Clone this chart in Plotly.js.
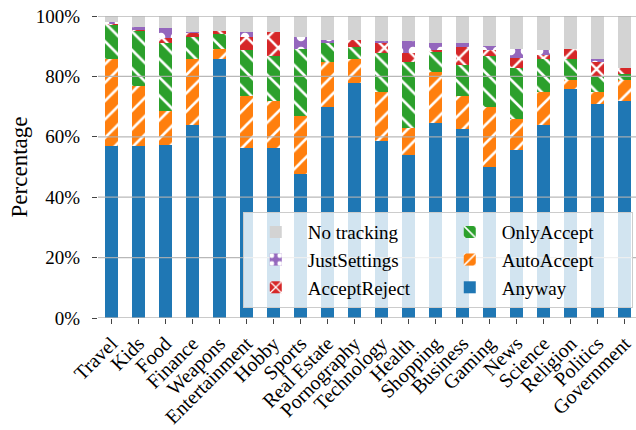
<!DOCTYPE html>
<html><head><meta charset="utf-8">
<script src="https://cdn.plot.ly/plotly-3.0.1.min.js"></script>
<style>html,body{margin:0;padding:0;background:#fff;overflow:hidden}</style>
</head><body><div id="chart" style="width:636px;height:430px"></div>
<script>
const categories = ['Travel','Kids','Food','Finance','Weapons','Entertainment','Hobby','Sports','Real Estate','Pornography','Technology','Health','Shopping','Business','Gaming','News','Science','Religion','Politics','Government'];
const anyway       = [56.8,56.8,57.3,63.9,85.8,56.4,56.4,47.7,69.8,77.8,58.7,54.0,64.5,62.5,50.0,55.7,63.9,75.9,70.9,72.0];
const autoAccept   = [29.0,20.0,11.4,21.9,3.2,17.1,15.3,19.2,15.1,8.0,16.3,8.9,17.1,11.0,19.8,10.1,11.1,2.9,4.1,6.8];
const onlyAccept   = [11.2,18.3,22.3,7.1,4.9,15.3,15.1,22.1,6.3,4.0,12.7,22.0,6.5,10.3,17.0,17.1,10.8,7.0,4.8,2.0];
const acceptReject = [0.3,0.3,1.6,1.4,1.1,4.1,8.0,0,0,2.1,3.3,2.8,0.8,6.1,2.0,3.3,1.4,3.2,5.0,1.9];
const justSettings = [0.7,0.8,3.3,0.5,0,1.9,0,4.0,0.9,0,0.8,4.1,2.1,1.1,1.2,2.8,1.7,0,1.0,0];
const noTracking   = [2.0,3.8,4.1,5.2,5.0,5.2,5.2,7.0,7.9,8.1,8.2,8.2,9.0,9.0,10.0,11.0,11.1,11.0,14.2,17.3];

const seriesNames  = ['Anyway','AutoAccept','OnlyAccept','AcceptReject','JustSettings','No tracking'];
const seriesValues = [anyway, autoAccept, onlyAccept, acceptReject, justSettings, noTracking];
const seriesColors = ['#1f77b4','#ff7f0e','#2ca02c','#d62728','#9467bd','#d3d3d3'];
const seriesHatch  = ['', '/', '\\', 'x', '.', ''];
const legendRanks  = [6, 4, 2, 5, 3, 1];

const yTickVals = [0,20,40,60,80,100];
const yTickText = ['0%','20%','40%','60%','80%','100%'];

const FONT = "'Liberation Serif', 'Times New Roman', serif";

function hatchOf(shape, color) {
  if (!shape) return undefined;
  const p = {shape: shape, fgcolor: '#ffffff', bgcolor: color, fgopacity: 1, fillmode: 'replace'};
  if (shape === '.') { p.size = 14; p.solidity = 0.3; }
  else if (shape === 'x') { p.size = 15; p.solidity = 0.3; }
  else { p.size = 13; p.solidity = 0.2; }
  return p;
}

const traces = seriesNames.map((name, i) => ({
  type: 'bar',
  name: name,
  x: categories,
  y: seriesValues[i],
  width: 0.5,
  legendrank: legendRanks[i],
  marker: {color: seriesColors[i], line: {width: 0}, pattern: hatchOf(seriesHatch[i], seriesColors[i])},
  hoverinfo: 'skip'
}));

const gridShapes = yTickVals.map(v => ({
  type: 'line', xref: 'paper', yref: 'y', x0: 0, x1: 1, y0: v, y1: v,
  line: {color: 'rgba(176,176,176,0.9)', width: 1.3}, layer: 'above'
}));

const layout = {
  width: 636, height: 430,
  margin: {l: 98, r: 0, t: 16, b: 112, pad: 0},
  paper_bgcolor: '#ffffff', plot_bgcolor: '#ffffff',
  font: {family: FONT, color: '#000000', size: 18},
  barmode: 'stack',
  showlegend: true,
  shapes: gridShapes,
  xaxis: {
    type: 'category',
    range: [-0.5, 19.42],
    tickangle: -45,
    ticks: 'outside', ticklen: 5, tickwidth: 1, tickcolor: '#444',
    tickfont: {family: FONT, size: 20, color: '#000'},
    showgrid: false, zeroline: false, showline: false,
    automargin: false, fixedrange: true
  },
  yaxis: {
    range: [0, 100],
    tickvals: yTickVals, ticktext: yTickText,
    ticks: 'outside', ticklen: 5, tickwidth: 1, tickcolor: '#444',
    ticklabelstandoff: 8,
    tickfont: {family: FONT, size: 19, color: '#000'},
    showgrid: false, zeroline: false, showline: false,
    title: {text: 'Percentage', font: {family: FONT, size: 23, color: '#000'}, standoff: 1},
    automargin: false, fixedrange: true
  },
  legend: {
    orientation: 'h',
    x: 0.994, xanchor: 'right',
    y: 0.033, yanchor: 'bottom',
    bgcolor: 'rgba(255,255,255,0.8)',
    bordercolor: '#cccccc', borderwidth: 1,
    font: {family: FONT, size: 19, color: '#000'},
    entrywidth: 125, entrywidthmode: 'pixels',
    itemwidth: 54,
    traceorder: 'normal'
  }
};

Plotly.newPlot('chart', traces, layout, {displayModeBar: false, staticPlot: true});
</script>
</body></html>
